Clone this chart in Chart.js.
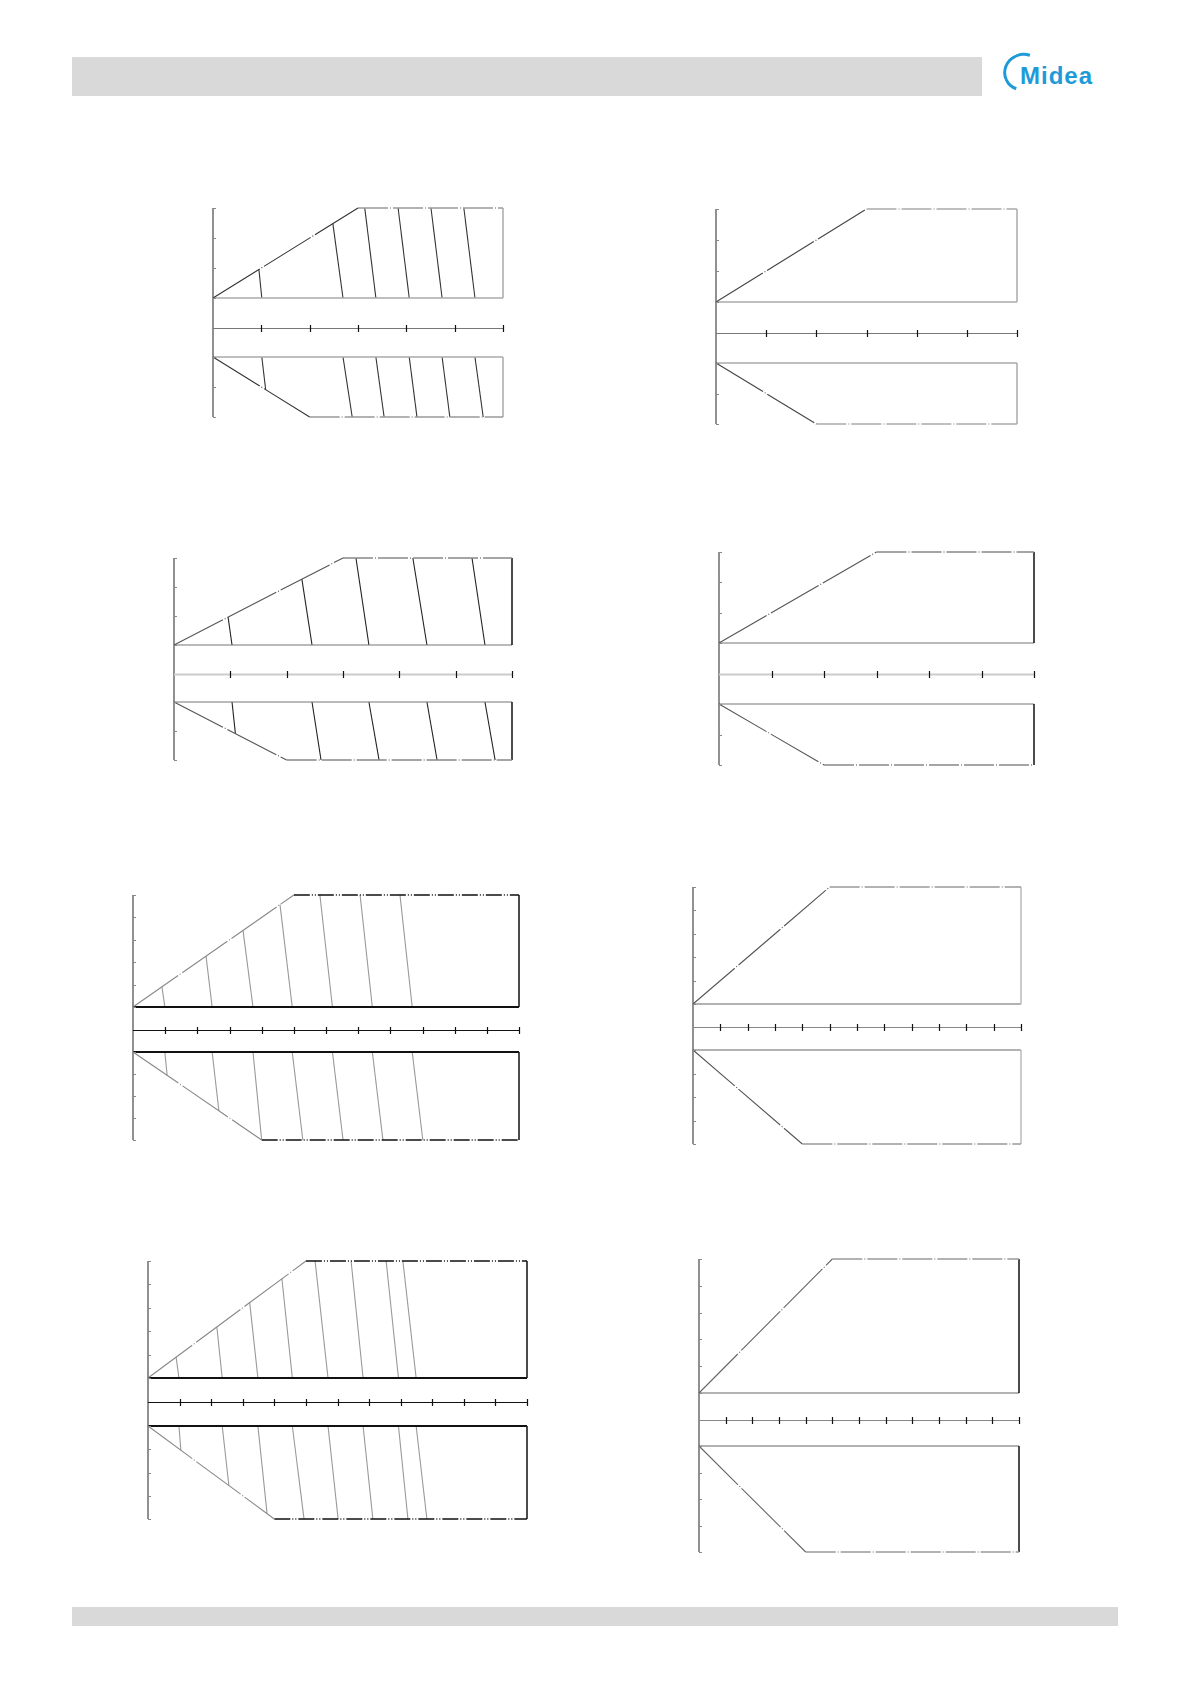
<!DOCTYPE html>
<html>
<head>
<meta charset="utf-8">
<script src="https://cdn.jsdelivr.net/npm/chart.js@4.4.1/dist/chart.umd.min.js"></script>
<style>
  body { margin: 0; width: 1191px; height: 1684px; position: relative; background: #fff; overflow: hidden; }
  .hdr { position: absolute; left: 72px; top: 57px; width: 910px; height: 39px; background: #d9d9d9; }
  .ftr { position: absolute; left: 72px; top: 1607px; width: 1046px; height: 19px; background: #d9d9d9; }
  .logo { position: absolute; left: 1000px; top: 50px; width: 110px; height: 48px; }
  .logo .ring { position: absolute; left: 3px; top: 3px; width: 40px; height: 38px; border: 3px solid #1e9bd7;
    border-right-color: transparent; border-bottom-color: transparent; border-radius: 50%;
    transform: rotate(-25deg); box-sizing: border-box; }
  .logo .txt { position: absolute; left: 20px; top: 12px; font: bold 24px "Liberation Sans", Arial, sans-serif;
    color: #1e9bd7; letter-spacing: 1px; }
  canvas { position: absolute; }
</style>
</head>
<body>
<div class="hdr"></div>
<div class="logo"><div class="ring"></div><div class="txt">Midea</div></div>
<div class="ftr"></div>

<script>
// ---- data: [x intervals, upper y intervals, lower y intervals], knee x of upper/lower slope
const c1Steps = [6, 3, 2];   const c1Knee = [3, 2];
const c1TopX = [0.95, 2.48, 3.14, 3.83, 4.51, 5.19];
const c1TopY = [0.95, 2.48, 3, 3, 3, 3];
const c1MidX = [1.01, 2.69, 3.37, 4.06, 4.74, 5.42];
const c1EndX = [1.09, 2.88, 3.54, 4.22, 4.90, 5.59];
const c1EndY = [1.09, 2, 2, 2, 2, 2];

const c2Steps = [6, 3, 2];   const c2Knee = [3, 2];

const c3Steps = [6, 3, 2];   const c3Knee = [3, 2];
const c3TopX = [0.96, 2.27, 3.23, 4.24, 5.29];
const c3TopY = [0.96, 2.27, 3, 3, 3];
const c3MidX = [1.03, 2.45, 3.46, 4.49, 5.52];
const c3EndX = [1.09, 2.61, 3.64, 4.67, 5.70];
const c3EndY = [1.09, 2, 2, 2, 2];

const c4Steps = [6, 3, 2];   const c4Knee = [3, 2];

const c5Steps = [12, 5, 4];  const c5Knee = [5, 4];
const c5TopX = [0.90, 2.27, 3.42, 4.57, 5.81, 7.06, 8.30];
const c5TopY = [0.90, 2.27, 3.42, 4.57, 5, 5, 5];
const c5MidX = [0.99, 2.46, 3.73, 4.95, 6.20, 7.44, 8.68];
const c5EndX = [1.06, 2.67, 4.00, 5.28, 6.53, 7.77, 9.01];
const c5EndY = [1.06, 2.67, 4, 4, 4, 4, 4];

const c6Steps = [12, 5, 4];  const c6Knee = [5, 4];

const c7Steps = [12, 5, 4];  const c7Knee = [5, 4];
const c7TopX = [0.89, 2.18, 3.22, 4.24, 5.29, 6.43, 7.54, 8.07];
const c7TopY = [0.89, 2.18, 3.22, 4.24, 5, 5, 5, 5];
const c7MidX = [0.98, 2.35, 3.48, 4.57, 5.70, 6.81, 7.93, 8.49];
const c7EndX = [1.04, 2.56, 3.77, 4.94, 6.02, 7.12, 8.23, 8.83];
const c7EndY = [1.04, 2.56, 3.77, 4, 4, 4, 4, 4];

const c8Steps = [12, 5, 4];  const c8Knee = [5, 4];

// ---- page layout (pixels): left, right, upper top, upper base, lower top, lower bottom
const boxes = [
  { l: 213, r: 503,  uT: 208,  uB: 298,  lT: 357,  lB: 417 },
  { l: 716, r: 1017, uT: 209,  uB: 302,  lT: 363,  lB: 424 },
  { l: 174, r: 512,  uT: 558,  uB: 645,  lT: 702,  lB: 760 },
  { l: 719, r: 1034, uT: 552,  uB: 643,  lT: 704,  lB: 765 },
  { l: 133, r: 519,  uT: 895,  uB: 1007, lT: 1052, lB: 1140 },
  { l: 693, r: 1021, uT: 887,  uB: 1004, lT: 1050, lB: 1144 },
  { l: 148, r: 527,  uT: 1261, uB: 1378, lT: 1426, lB: 1519 },
  { l: 699, r: 1019, uT: 1259, uB: 1393, lT: 1446, lB: 1552 }
];

// ---- line styles per diagram
const looks = [
  { slope: '#333', flat: '#999', right: '#aaa', base: '#aaa', bw: 1.5, iso: '#333', axis: '#777' },
  { slope: '#444', flat: '#aaa', right: '#aaa', base: '#aaa', bw: 1.5, iso: '#333', axis: '#777' },
  { slope: '#555', flat: '#888', right: '#111', base: '#777', bw: 1.2, iso: '#222', axis: '#ccc' },
  { slope: '#555', flat: '#888', right: '#111', base: '#777', bw: 1.2, iso: '#222', axis: '#ccc' },
  { slope: '#888', flat: '#111', right: '#111', base: '#111', bw: 2,   iso: '#999', axis: '#111' },
  { slope: '#555', flat: '#999', right: '#bbb', base: '#999', bw: 1.5, iso: '#999', axis: '#888' },
  { slope: '#888', flat: '#111', right: '#111', base: '#111', bw: 2,   iso: '#999', axis: '#111' },
  { slope: '#666', flat: '#999', right: '#111', base: '#999', bw: 1.5, iso: '#999', axis: '#888' }
];

const diagrams = [
  { steps: c1Steps, knee: c1Knee, topX: c1TopX, topY: c1TopY, midX: c1MidX, endX: c1EndX, endY: c1EndY },
  { steps: c2Steps, knee: c2Knee, topX: [], topY: [], midX: [], endX: [], endY: [] },
  { steps: c3Steps, knee: c3Knee, topX: c3TopX, topY: c3TopY, midX: c3MidX, endX: c3EndX, endY: c3EndY },
  { steps: c4Steps, knee: c4Knee, topX: [], topY: [], midX: [], endX: [], endY: [] },
  { steps: c5Steps, knee: c5Knee, topX: c5TopX, topY: c5TopY, midX: c5MidX, endX: c5EndX, endY: c5EndY },
  { steps: c6Steps, knee: c6Knee, topX: [], topY: [], midX: [], endX: [], endY: [] },
  { steps: c7Steps, knee: c7Knee, topX: c7TopX, topY: c7TopY, midX: c7MidX, endX: c7EndX, endY: c7EndY },
  { steps: c8Steps, knee: c8Knee, topX: [], topY: [], midX: [], endX: [], endY: [] }
];

const PAD = 6;

// left axis, y ticks and the middle x axis, drawn from the chart scales
const axesPlugin = {
  id: 'axesFrame',
  afterDatasetsDraw(chart, args, o) {
    const { ctx } = chart;
    const x = chart.scales.x, yu = chart.scales.yU, yl = chart.scales.yL;
    const x0 = x.getPixelForValue(0), x1 = x.getPixelForValue(o.nx);
    const top = yu.getPixelForValue(o.nyU), bot = yl.getPixelForValue(o.nyL);
    const mid = Math.round((yu.getPixelForValue(0) + yl.getPixelForValue(0)) / 2) + 0.5;
    ctx.save();
    ctx.strokeStyle = '#555';
    ctx.lineWidth = 1.3;
    ctx.beginPath();
    ctx.moveTo(x0, top); ctx.lineTo(x0, bot);
    ctx.stroke();
    ctx.strokeStyle = '#888';
    ctx.lineWidth = 1;
    ctx.beginPath();
    for (let i = 0; i <= o.nyU; i++) {
      const p = Math.round(yu.getPixelForValue(i)) + 0.5;
      ctx.moveTo(x0, p); ctx.lineTo(x0 + 3, p);
    }
    for (let i = 0; i <= o.nyL; i++) {
      const p = Math.round(yl.getPixelForValue(i)) + 0.5;
      ctx.moveTo(x0, p); ctx.lineTo(x0 + 3, p);
    }
    ctx.stroke();
    ctx.strokeStyle = o.axis;
    ctx.lineWidth = o.axis === '#ccc' ? 2 : 1;
    ctx.beginPath();
    ctx.moveTo(x0, mid); ctx.lineTo(x1, mid);
    ctx.stroke();
    ctx.strokeStyle = '#111';
    ctx.lineWidth = 1.2;
    ctx.beginPath();
    for (let i = 1; i <= o.nx; i++) {
      const p = Math.round(x.getPixelForValue(i)) + 0.5;
      ctx.moveTo(p, mid - 3.5); ctx.lineTo(p, mid + 3.5);
    }
    ctx.stroke();
    ctx.restore();
  }
};

function seg(points, axis, color, width, dash) {
  return {
    data: points, yAxisID: axis, showLine: true, borderColor: color, borderWidth: width,
    borderDash: dash || [], pointRadius: 0, fill: false, clip: false, tension: 0
  };
}

function buildDatasets(d, lk) {
  const [nx, nyU, nyL] = d.steps;
  const slopeDash = [55, 2, 1, 2];
  const flatDash = lk.flat === '#111' ? [16, 2, 1, 2, 1, 2] : [30, 2, 1, 2];
  const ds = [
    seg([{ x: 0, y: 0 }, { x: d.knee[0], y: nyU }], 'yU', lk.slope, 1.1, slopeDash),
    seg([{ x: d.knee[0], y: nyU }, { x: nx, y: nyU }], 'yU', lk.flat, 1.4, flatDash),
    seg([{ x: nx, y: nyU }, { x: nx, y: 0 }], 'yU', lk.right, 1.5),
    seg([{ x: nx, y: 0 }, { x: 0, y: 0 }], 'yU', lk.base, lk.bw),
    seg([{ x: 0, y: 0 }, { x: d.knee[1], y: nyL }], 'yL', lk.slope, 1.1, slopeDash),
    seg([{ x: d.knee[1], y: nyL }, { x: nx, y: nyL }], 'yL', lk.flat, 1.4, flatDash),
    seg([{ x: nx, y: nyL }, { x: nx, y: 0 }], 'yL', lk.right, 1.5),
    seg([{ x: nx, y: 0 }, { x: 0, y: 0 }], 'yL', lk.base, lk.bw)
  ];
  d.topX.forEach((tx, i) => {
    ds.push(seg([{ x: tx, y: d.topY[i] }, { x: d.midX[i], y: 0 }], 'yU', lk.iso, 1.1));
  });
  d.endX.forEach((ex, i) => {
    ds.push(seg([{ x: d.midX[i], y: 0 }, { x: ex, y: d.endY[i] }], 'yL', lk.iso, 1.1));
  });
  return ds;
}

diagrams.forEach((d, k) => {
  const b = boxes[k];
  const [nx, nyU, nyL] = d.steps;
  const canvas = document.createElement('canvas');
  canvas.width = b.r - b.l + 2 * PAD;
  canvas.height = b.lB - b.uT + 2 * PAD;
  canvas.style.left = (b.l - PAD) + 'px';
  canvas.style.top = (b.uT - PAD) + 'px';
  document.body.appendChild(canvas);

  const pu = (b.uB - b.uT) / nyU;
  const pl = (b.lB - b.lT) / nyL;

  new Chart(canvas.getContext('2d'), {
    type: 'scatter',
    data: { datasets: buildDatasets(d, looks[k]) },
    options: {
      responsive: false,
      devicePixelRatio: 1,
      animation: false,
      layout: { padding: PAD },
      plugins: {
        legend: { display: false },
        tooltip: { enabled: false },
        axesFrame: { nx, nyU, nyL, axis: looks[k].axis }
      },
      scales: {
        x: { type: 'linear', display: false, min: 0, max: nx },
        y: { display: false },
        yU: { type: 'linear', axis: 'y', display: false, min: -(b.lB - b.uB) / pu, max: nyU },
        yL: { type: 'linear', axis: 'y', display: false, reverse: true, min: -(b.lT - b.uT) / pl, max: nyL }
      }
    },
    plugins: [axesPlugin]
  });
});
</script>
</body>
</html>
